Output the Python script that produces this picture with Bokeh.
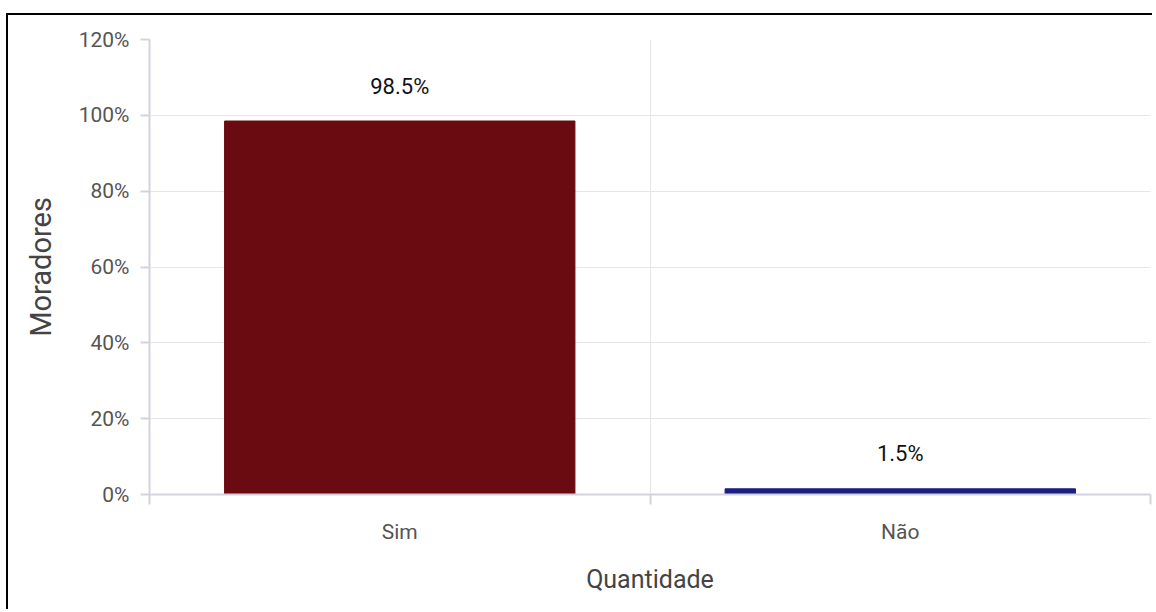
from bokeh.plotting import figure
from bokeh.models import FixedTicker, PrintfTickFormatter, ColumnDataSource, LabelSet, Range1d
from bokeh.core.properties import value
from bokeh.embed import file_html
from bokeh.resources import INLINE

categories = ["Sim", "Não"]
values = [98.5, 1.5]
colors = ["#6a0b11", "#1b1f7d"]
y_ticks = [0, 20, 40, 60, 80, 100, 120]

xs = [i + 0.5 for i in range(len(categories))]
labels = [f"{v:.1f}%" for v in values]
src = ColumnDataSource(dict(x=xs, top=values, color=colors, label=labels))

p = figure(width=1146, height=596, output_backend="svg", toolbar_location=None,
           x_range=Range1d(0, len(categories)), y_range=Range1d(0, 120),
           min_border_left=141, min_border_right=4, min_border_top=24, min_border_bottom=117)
p.styles = {"box-shadow": "-2px -2px 0px 0px black", "transform": "translate(8px, 15px)"}
p.outline_line_color = None

p.vbar(x="x", top="top", width=0.7, color="color", source=src)

lbl = LabelSet(x="x", y="top", text="label", source=src, text_align="center",
               text_baseline="middle", y_offset=35, text_font=value("Roboto"),
               text_font_size="22px", text_color="#111111")
p.add_layout(lbl)

font = "Roboto"
axis_col = "#d3d3df"
tick_col = "#555555"

p.xaxis.ticker = FixedTicker(ticks=xs, minor_ticks=list(range(len(categories) + 1)))
p.xaxis.major_label_overrides = {x: c for x, c in zip(xs, categories)}
p.xaxis.major_tick_line_color = None
p.xaxis.major_tick_out = 0
p.xaxis.major_tick_in = 0
p.xaxis.minor_tick_out = 10
p.xaxis.minor_tick_in = 0
p.xaxis.minor_tick_line_color = axis_col
p.xaxis.minor_tick_line_width = 2
p.xaxis.axis_label = "Quantidade"
p.xaxis.major_label_standoff = 15
p.xaxis.axis_label_standoff = 18

p.yaxis.ticker = FixedTicker(ticks=y_ticks, minor_ticks=[])
p.yaxis.formatter = PrintfTickFormatter(format="%d%%")
p.yaxis.major_tick_out = 9
p.yaxis.major_tick_in = 0
p.yaxis.major_tick_line_color = axis_col
p.yaxis.major_tick_line_width = 2
p.yaxis.axis_label = "Moradores"
p.yaxis.major_label_standoff = 11
p.yaxis.axis_label_standoff = 18

for ax in (p.xaxis, p.yaxis):
    ax.axis_line_color = axis_col
    ax.axis_line_width = 2
    ax.major_label_text_font = font
    ax.major_label_text_font_size = "21px"
    ax.major_label_text_color = tick_col
    ax.axis_label_text_font = font
    ax.axis_label_text_font_size = "25px"
    ax.axis_label_text_font_style = "normal"
    ax.axis_label_text_color = "#444444"
p.yaxis.axis_label_text_font_size = "29px"

p.xgrid.grid_line_color = None
p.xgrid.minor_grid_line_color = "#e6e6e6"
p.xgrid.minor_grid_line_width = 1
p.ygrid.grid_line_color = "#e6e6e6"
p.ygrid.grid_line_width = 1

open("out.html", "w").write(file_html(p, INLINE))
